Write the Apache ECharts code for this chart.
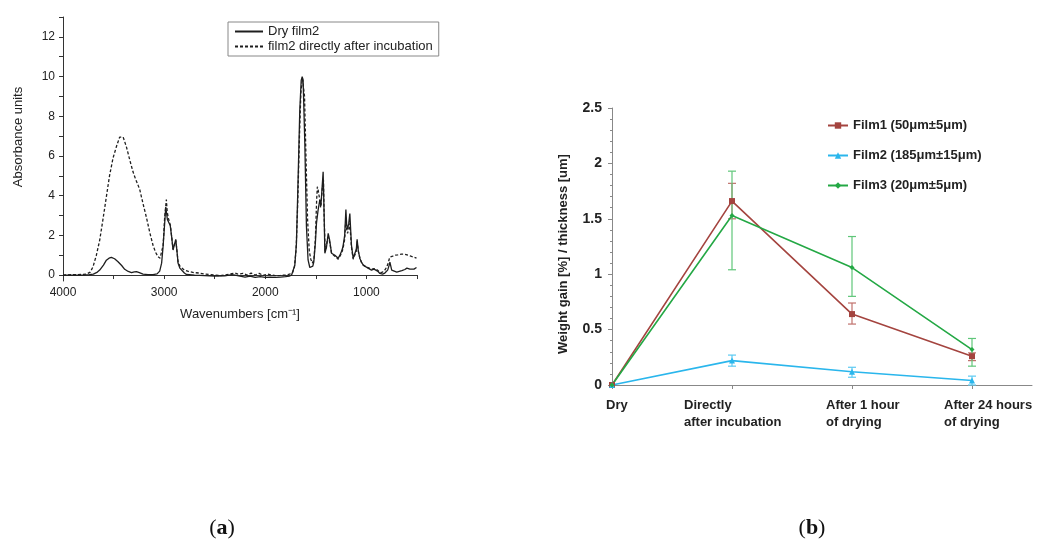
<!DOCTYPE html>
<html>
<head>
<meta charset="utf-8">
<script src="https://cdn.jsdelivr.net/npm/echarts@6/dist/echarts.min.js"></script>
<style>
  html, body { margin: 0; padding: 0; background: #fff; }
  #chart { width: 1040px; height: 541px; }
</style>
</head>
<body>
<div id="chart"></div>
<script>
// (a) IR spectra, wavenumber / absorbance
const dryWave = [4000, 3900, 3800, 3740, 3700, 3660, 3637, 3600, 3571, 3545, 3522, 3490, 3456, 3420, 3390, 3355, 3323, 3295, 3274, 3245, 3209, 3160, 3110, 3070, 3044, 3025, 3011, 2995, 2984, 2977, 2968, 2958, 2951, 2940, 2925, 2912, 2900, 2885, 2875, 2862, 2845, 2829, 2800, 2780, 2700, 2600, 2500, 2400, 2330, 2300, 2250, 2200, 2150, 2100, 2050, 2000, 1950, 1900, 1850, 1800, 1760, 1740, 1724, 1708, 1692, 1675, 1659, 1645, 1635, 1626, 1609, 1593, 1577, 1560, 1545, 1530, 1520, 1505, 1494, 1478, 1461, 1450, 1440, 1428, 1418, 1411, 1395, 1378, 1365, 1345, 1312, 1279, 1262, 1246, 1233, 1215, 1203, 1195, 1187, 1175, 1164, 1148, 1131, 1115, 1100, 1092, 1080, 1065, 1050, 1031, 1000, 983, 950, 925, 907, 890, 867, 840, 818, 790, 775, 768, 760, 750, 742, 700, 686, 650, 620, 600, 587, 570, 554, 530, 505]
const dryAbs = [0, 0, 0, 0.02, 0.05, 0.15, 0.25, 0.5, 0.75, 0.85, 0.89, 0.82, 0.67, 0.48, 0.29, 0.18, 0.12, 0.16, 0.17, 0.12, 0.05, 0.02, 0.02, 0.06, 0.2, 0.6, 1.4, 2.6, 3.44, 3.5, 2.8, 2.9, 2.87, 2.5, 1.9, 1.26, 1.3, 1.8, 1.3, 0.59, 0.35, 0.25, 0.1, 0.03, 0, -0.03, -0.05, -0.04, 0.02, 0, -0.05, -0.1, -0.05, -0.12, -0.08, -0.12, -0.1, -0.12, -0.1, -0.08, -0.05, 0, 0.08, 0.5, 1.6, 4.95, 8.3, 9.8, 10.0, 9.8, 6.6, 2.43, 0.76, 0.38, 0.34, 0.45, 0.67, 1.6, 2.6, 3.27, 3.78, 3.5, 3.6, 5.2, 3.0, 1.1, 1.4, 2.1, 1.8, 1.1, 1.0, 0.85, 1.0, 1.2, 1.4, 2.0, 3.3, 2.5, 2.3, 2.6, 3.1, 1.5, 0.85, 0.9, 1.3, 1.8, 1.2, 0.85, 0.65, 0.5, 0.4, 0.35, 0.25, 0.3, 0.35, 0.2, 0.08, 0.05, 0.1, 0.25, 0.5, 0.65, 0.55, 0.25, 0.18, 0.15, 0.18, 0.22, 0.28, 0.35, 0.4, 0.3, 0.25, 0.3, 0.38]

const wetWave = [4000, 3900, 3800, 3766, 3730, 3703, 3670, 3637, 3605, 3571, 3540, 3505, 3470, 3440, 3423, 3405, 3373, 3340, 3308, 3280, 3258, 3241, 3209, 3175, 3140, 3110, 3085, 3060, 3040, 3027, 3010, 2995, 2978, 2970, 2960, 2950, 2938, 2925, 2912, 2900, 2885, 2875, 2862, 2845, 2829, 2800, 2760, 2700, 2650, 2600, 2500, 2450, 2400, 2350, 2300, 2270, 2220, 2180, 2140, 2100, 2060, 2020, 1980, 1940, 1900, 1850, 1800, 1760, 1730, 1712, 1695, 1680, 1662, 1648, 1632, 1622, 1612, 1598, 1582, 1565, 1550, 1535, 1520, 1505, 1492, 1485, 1478, 1465, 1452, 1444, 1432, 1425, 1418, 1408, 1395, 1380, 1365, 1345, 1312, 1279, 1262, 1246, 1233, 1215, 1203, 1195, 1187, 1175, 1164, 1148, 1131, 1115, 1100, 1092, 1080, 1065, 1050, 1031, 1000, 983, 950, 925, 907, 890, 867, 840, 818, 800, 785, 770, 760, 740, 717, 690, 652, 620, 586, 560, 530, 505]
const wetAbs = [0, 0.02, 0.03, 0.05, 0.15, 0.42, 1.0, 1.76, 2.8, 3.95, 5.0, 5.9, 6.5, 6.95, 7.05, 6.95, 6.46, 5.8, 5.2, 4.8, 4.53, 4.3, 3.6, 2.9, 2.1, 1.5, 1.15, 0.92, 0.85, 0.84, 1.5, 2.9, 3.8, 3.2, 2.9, 2.8, 2.5, 1.9, 1.3, 1.3, 1.75, 1.3, 0.65, 0.45, 0.35, 0.25, 0.18, 0.12, 0.1, 0.05, 0, -0.03, 0, 0.05, 0.1, 0.05, 0.08, 0, 0.1, 0, 0.08, -0.02, 0.05, 0, -0.03, -0.02, 0, 0.05, 0.12, 0.4, 1.3, 3.5, 7.0, 9.2, 9.9, 10.0, 9.0, 6.0, 2.8, 1.2, 0.8, 0.6, 0.75, 1.8, 3.8, 4.45, 4.3, 3.9, 3.4, 3.3, 4.6, 4.8, 3.0, 1.2, 1.3, 1.9, 1.7, 1.1, 0.95, 0.8, 0.95, 1.1, 1.3, 1.8, 2.9, 2.3, 2.1, 2.3, 2.6, 1.4, 0.8, 0.85, 1.2, 1.7, 1.2, 0.85, 0.65, 0.5, 0.4, 0.35, 0.3, 0.32, 0.38, 0.25, 0.12, 0.15, 0.25, 0.4, 0.6, 0.9, 1.0, 0.95, 1.0, 1.02, 1.05, 1.05, 1.0, 0.95, 0.9, 0.85]

const absTicks = [0, 1, 2, 3, 4, 5, 6, 7, 8, 9, 10, 11, 12, 13]
const absLabels = [0, 2, 4, 6, 8, 10, 12]

// (b) weight gain per thickness
const stages = ['Dry', 'Directly\nafter incubation', 'After 1 hour\nof drying', 'After 24 hours\nof drying']
const film1Mean = [0, 1.66, 0.64, 0.26]
const film1Low = [0, 1.50, 0.55, 0.22]
const film1High = [0, 1.82, 0.74, 0.29]
const film2Mean = [0, 0.22, 0.12, 0.04]
const film2Low = [0, 0.17, 0.07, 0.0]
const film2High = [0, 0.27, 0.16, 0.08]
const film3Mean = [0, 1.53, 1.06, 0.32]
const film3Low = [0, 1.04, 0.80, 0.17]
const film3High = [0, 1.93, 1.34, 0.42]

const chart = echarts.init(document.getElementById('chart'))

const pairs = (xs, ys) => xs.map((x, i) => [x, ys[i]])
const points = ys => ys.map((y, i) => [i, y])

// 误差线
function errorBars(name, color, low, high) {
  return {
    type: 'custom',
    name: name,
    xAxisIndex: 1,
    yAxisIndex: 1,
    z: 1,
    data: low.map((l, i) => [i, l, high[i]]),
    renderItem: (params, api) => {
      if (api.value(1) === api.value(2)) return null
      const lo = api.coord([api.value(0), api.value(1)])
      const hi = api.coord([api.value(0), api.value(2)])
      const w = 4
      const style = { stroke: color, lineWidth: 1.2 }
      return {
        type: 'group',
        children: [
          { type: 'line', shape: { x1: lo[0], y1: lo[1], x2: hi[0], y2: hi[1] }, style },
          { type: 'line', shape: { x1: lo[0] - w, y1: lo[1], x2: lo[0] + w, y2: lo[1] }, style },
          { type: 'line', shape: { x1: hi[0] - w, y1: hi[1], x2: hi[0] + w, y2: hi[1] }, style }
        ]
      }
    }
  }
}

const fontA = 'Liberation Sans, Arial, sans-serif'
const richBase = { align: 'left', fontWeight: 'bold', fontSize: 13, lineHeight: 17, color: '#222', fontFamily: fontA }
const labelRich = {
  s0: Object.assign({ width: 12 }, richBase),
  s1: Object.assign({ width: 96 }, richBase),
  s2: Object.assign({ width: 52 }, richBase),
  s3: Object.assign({ width: 56 }, richBase)
}
const captionRich = {
  p: { fontSize: 22, fontFamily: 'Liberation Serif, DejaVu Serif, serif', fill: '#111' },
  b: { fontSize: 22, fontWeight: 'bold', fontFamily: 'Liberation Serif, DejaVu Serif, serif', fill: '#111' }
}

const option = {
  animation: false,
  backgroundColor: '#fff',
  textStyle: { fontFamily: fontA },
  grid: [
    { left: 63, top: 17, width: 354, height: 264 },
    { left: 612, top: 108, width: 420, height: 277 }
  ],
  legend: [
    {
      data: ['Dry film2', 'film2 directly after incubation'],
      orient: 'vertical',
      left: 228,
      top: 22,
      padding: [3, 6, 3, 6],
      borderColor: '#888',
      borderWidth: 1,
      itemWidth: 28,
      itemHeight: 10,
      itemGap: 2,
      itemStyle: { opacity: 0 },
      textStyle: { fontSize: 13, color: '#222', fontFamily: fontA }
    },
    {
      data: ['Film1 (50μm±5μm)', 'Film2 (185μm±15μm)', 'Film3 (20μm±5μm)'],
      orient: 'vertical',
      left: 822,
      top: 114,
      itemWidth: 20,
      itemHeight: 8,
      itemGap: 17,
      textStyle: { fontSize: 13, fontWeight: 'bold', color: '#222', fontFamily: fontA }
    }
  ],
  xAxis: [
    {
      gridIndex: 0,
      type: 'value',
      inverse: true,
      min: 500,
      max: 4000,
      interval: 500,
      name: 'Wavenumbers [cm⁻¹]',
      nameLocation: 'middle',
      nameGap: 27,
      nameTextStyle: { fontSize: 13, color: '#222' },
      axisLine: { lineStyle: { color: '#333' } },
      axisTick: { inside: false, length: 4, lineStyle: { color: '#333' } },
      axisLabel: {
        margin: 6,
        fontSize: 12,
        color: '#222',
        formatter: v => (v % 1000 === 0 ? String(v) : '')
      },
      splitLine: { show: false }
    },
    {
      gridIndex: 1,
      type: 'value',
      min: 0,
      max: 3.5,
      axisLine: { lineStyle: { color: '#888' } },
      axisTick: { length: 4, customValues: [0, 1, 2, 3], lineStyle: { color: '#888' } },
      axisLabel: {
        customValues: [0, 1, 2, 3],
        margin: 12,
        align: 'center',
        formatter: v => {
          const i = Math.round(v)
          return stages[i].split('\n').map(s => '{s' + i + '|' + s + '}').join('\n')
        },
        rich: labelRich
      },
      splitLine: { show: false }
    }
  ],
  yAxis: [
    {
      gridIndex: 0,
      type: 'value',
      min: -0.3,
      max: 13,
      name: 'Absorbance units',
      nameLocation: 'middle',
      nameGap: 38,
      nameTextStyle: { fontSize: 13, color: '#222', padding: [0, 0, 0, 24] },
      axisLine: { show: true, lineStyle: { color: '#333' } },
      axisTick: { show: true, length: 4, customValues: absTicks, lineStyle: { color: '#333' } },
      axisLabel: { customValues: absLabels, margin: 8, fontSize: 12, color: '#222' },
      splitLine: { show: false }
    },
    {
      gridIndex: 1,
      type: 'value',
      min: 0,
      max: 2.5,
      interval: 0.5,
      name: 'Weight gain [%] / thickness [um]',
      nameLocation: 'middle',
      nameGap: 42,
      nameTextStyle: { fontSize: 13, fontWeight: 'bold', color: '#222', padding: [0, 15, 0, 0] },
      axisLine: { show: true, lineStyle: { color: '#888' } },
      axisTick: { show: true, length: 4, lineStyle: { color: '#888' } },
      minorTick: { show: true, splitNumber: 5, length: 2, lineStyle: { color: '#888' } },
      axisLabel: { margin: 10, fontSize: 14, fontWeight: 'bold', color: '#222' },
      splitLine: { show: false }
    }
  ],
  series: [
    {
      name: 'Dry film2',
      type: 'line',
      xAxisIndex: 0,
      yAxisIndex: 0,
      symbol: 'none',
      data: pairs(dryWave, dryAbs),
      lineStyle: { color: '#1e1e1e', width: 1.3 },
      itemStyle: { color: '#1e1e1e' }
    },
    {
      name: 'film2 directly after incubation',
      type: 'line',
      xAxisIndex: 0,
      yAxisIndex: 0,
      symbol: 'none',
      data: pairs(wetWave, wetAbs),
      lineStyle: { color: '#1e1e1e', width: 1.3, type: [3, 2] },
      itemStyle: { color: '#1e1e1e' }
    },
    {
      name: 'Film1 (50μm±5μm)',
      type: 'line',
      xAxisIndex: 1,
      yAxisIndex: 1,
      symbol: 'rect',
      symbolSize: 6,
      data: points(film1Mean),
      lineStyle: { color: '#a4443f', width: 1.6 },
      itemStyle: { color: '#a4443f' }
    },
    {
      name: 'Film2 (185μm±15μm)',
      type: 'line',
      xAxisIndex: 1,
      yAxisIndex: 1,
      symbol: 'triangle',
      symbolSize: 6,
      data: points(film2Mean),
      lineStyle: { color: '#2ab6ec', width: 1.6 },
      itemStyle: { color: '#2ab6ec' }
    },
    {
      name: 'Film3 (20μm±5μm)',
      type: 'line',
      xAxisIndex: 1,
      yAxisIndex: 1,
      symbol: 'diamond',
      symbolSize: 5,
      data: points(film3Mean),
      lineStyle: { color: '#24a845', width: 1.6 },
      itemStyle: { color: '#24a845' }
    },
    errorBars('film1 error', '#c0716c', film1Low, film1High),
    errorBars('film2 error', '#5ccaf2', film2Low, film2High),
    errorBars('film3 error', '#5fc679', film3Low, film3High)
  ],
  graphic: [
    {
      type: 'text',
      x: 222,
      y: 528,
      style: { text: '{p|(}{b|a}{p|)}', align: 'center', verticalAlign: 'middle', rich: captionRich }
    },
    {
      type: 'text',
      x: 812,
      y: 528,
      style: { text: '{p|(}{b|b}{p|)}', align: 'center', verticalAlign: 'middle', rich: captionRich }
    }
  ]
}

chart.setOption(option)
</script>
</body>
</html>
